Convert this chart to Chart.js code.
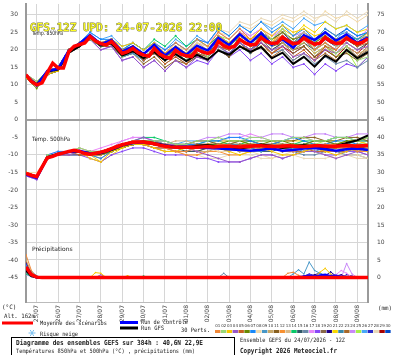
<!DOCTYPE html>
<html>
<head>
<meta charset="utf-8">
<script src="https://cdn.jsdelivr.net/npm/chart.js@4.4.1/dist/chart.umd.min.js"></script>
<style>
  html, body { margin: 0; padding: 0; background: #fff; }
</style>
</head>
<body>
<canvas id="gefsChart" width="395" height="355"></canvas>
<script>
// hours since run start (24/07 12Z)
const hours6 = [0,6,12,18,24,30,36,42,48,54,60,66,72,78,84,90,96,102,108,114,120,126,132,138,144,150,156,162,168,174,180,186,192,198,204,210,216,222,228,234,240,246,252,258,264,270,276,282,288,294,300,306,312,318,324,330,336,342,348,354,360,366,372,378,384];
const hours12 = [0,12,24,36,48,60,72,84,96,108,120,132,144,156,168,180,192,204,216,228,240,252,264,276,288,300,312,324,336,348,360,372,384];
const dayTicks = [12,36,60,84,108,132,156,180,204,228,252,276,300,324,348,372];
const dayLabels = ['25/07','26/07','27/07','28/07','29/07','30/07','31/07','01/08','02/08','03/08','04/08','05/08','06/08','07/08','08/08','09/08'];
const tempTicks = [-45,-40,-35,-30,-25,-20,-15,-10,-5,0,5,10,15,20,25,30];
const gridTemps = [30,20,10,-10,-20,-30,-35,-40];

// ensemble mean (6h)
const mean850 = [12.9,11.0,10.0,10.6,13.5,16.2,14.8,14.8,19.5,21.0,21.5,22.0,23.8,22.5,21.8,21.4,22.4,20.8,19.0,19.5,20.4,19.2,18.5,18.2,20.4,18.8,18.0,17.6,19.9,18.8,18.3,18.1,20.2,19.4,19.0,19.6,22.4,21.2,20.6,21.0,23.0,22.0,21.4,21.6,23.5,22.4,21.8,22.0,23.6,22.6,21.8,22.0,23.4,22.4,21.6,21.9,23.5,22.4,21.8,22.0,23.4,22.4,21.8,22.2,23.2];
const mean500 = [-15.3,-15.8,-16.2,-13.5,-10.8,-10.4,-9.8,-9.4,-9.0,-8.7,-9.0,-9.6,-9.8,-9.5,-9.2,-8.8,-8.2,-7.6,-7.1,-6.7,-6.4,-6.3,-6.3,-6.5,-6.8,-7.2,-7.5,-7.7,-7.8,-7.8,-7.8,-7.8,-7.8,-7.7,-7.6,-7.7,-7.6,-7.5,-7.5,-7.6,-7.7,-7.6,-7.5,-7.4,-7.4,-7.5,-7.6,-7.6,-7.5,-7.4,-7.5,-7.6,-7.6,-7.5,-7.4,-7.4,-7.5,-7.6,-7.5,-7.4,-7.3,-7.4,-7.5,-7.4,-7.3];

// control run and GFS run (12h)
const ctrl850 = [12.8,9.8,14.0,14.6,19.8,21.8,24.2,21.6,22.8,19.5,21.0,18.8,21.5,18.4,20.8,18.6,21.2,19.8,23.4,21.4,24.5,22.0,24.8,21.5,23.0,20.6,24.2,22.8,25.0,22.6,24.4,22.0,23.6];
const gfs850 = [12.6,10.2,13.8,14.4,19.2,21.0,23.6,21.2,21.8,18.4,19.6,17.6,19.4,17.0,18.8,16.8,18.6,17.2,19.8,18.6,21.0,19.4,20.8,17.6,19.2,16.0,18.0,15.2,18.4,16.6,20.0,17.6,19.4];
const ctrl500 = [-15.6,-16.6,-10.8,-9.8,-9.2,-8.8,-9.6,-9.4,-8.4,-7.2,-6.6,-6.4,-6.8,-7.4,-7.8,-7.6,-7.8,-8.0,-8.2,-8.4,-8.6,-8.8,-8.5,-8.2,-8.8,-8.6,-8.2,-8.0,-8.4,-8.8,-8.4,-8.2,-8.6];
const gfs500 = [-15.4,-16.2,-10.6,-9.6,-9.2,-9.0,-9.8,-9.6,-8.6,-7.4,-6.6,-6.2,-6.6,-7.2,-7.6,-7.8,-7.4,-7.2,-7.6,-7.8,-8.2,-7.6,-7.0,-7.4,-8.0,-7.6,-7.2,-7.6,-8.0,-7.4,-6.6,-5.8,-4.4];

// 30 perturbations, 850hPa (12h)
const pert850 = [
  [13,10,14,15,20,22,24,22,23,20,21,19,21,19,22,20,23,21,25,23,26,23,25,22,24,21,23,20,22,20,23,22,25],
  [13,11,14,15,19,21,23,21,22,18,20,18,20,17,19,17,20,18,22,21,24,22,25,23,26,22,24,20,22,19,21,17,18],
  [12,10,13,14,20,22,24,22,23,21,22,20,22,19,21,19,21,20,23,22,24,23,26,24,27,25,26,24,25,23,24,22,24],
  [13,10,13,15,19,21,23,20,21,17,18,15,17,14,17,15,18,17,21,19,22,20,22,20,21,18,19,17,20,19,22,20,21],
  [13,10,14,15,20,21,24,22,22,19,20,17,19,16,18,16,19,18,21,20,23,21,22,19,21,18,20,17,21,20,23,21,22],
  [12,9,13,14,19,21,23,21,22,20,21,19,21,18,20,18,20,19,22,21,24,22,24,23,25,23,24,22,24,22,23,21,24],
  [13,10,14,15,20,22,25,23,23,20,22,20,22,20,22,20,23,22,26,24,27,25,28,25,27,24,26,23,25,23,26,24,25],
  [13,10,13,15,19,22,24,22,23,20,21,19,21,19,21,20,22,21,25,24,27,26,28,27,29,28,30,28,31,29,30,28,30],
  [12,10,14,15,20,21,23,21,22,18,19,17,19,17,19,17,19,18,21,19,22,20,23,21,23,21,24,23,26,24,25,23,24],
  [13,11,14,15,20,22,24,22,23,19,21,18,20,18,20,19,22,20,23,21,22,20,21,19,22,20,22,19,21,19,21,19,20],
  [13,10,13,14,19,21,23,21,21,18,19,16,18,15,17,16,18,17,20,18,21,20,23,21,22,20,21,18,20,18,19,17,19],
  [12,10,13,15,20,21,24,22,23,19,20,18,20,17,20,18,21,20,24,22,25,23,26,23,24,21,23,21,24,22,24,22,23],
  [13,10,14,15,20,22,24,22,22,19,21,19,20,18,19,18,20,19,22,20,23,21,24,22,25,23,25,23,24,21,22,20,21],
  [13,10,13,15,20,22,24,22,23,20,22,20,23,21,24,21,23,21,24,22,23,21,24,22,23,21,24,22,25,23,24,23,25],
  [12,10,13,14,19,21,23,21,22,19,20,18,20,18,19,17,19,17,20,18,21,19,22,20,22,20,22,20,23,21,22,20,22],
  [13,10,14,15,19,21,23,21,22,18,20,17,19,16,18,16,18,17,20,19,22,20,22,19,20,17,19,16,18,16,17,15,17],
  [13,11,14,15,20,22,24,22,23,20,21,19,21,19,21,19,22,21,24,22,25,24,26,24,25,23,24,22,24,22,25,23,26],
  [12,10,13,14,19,21,23,20,21,17,18,15,17,14,17,15,17,16,20,18,20,17,19,16,18,15,16,13,16,14,16,15,18],
  [13,10,14,15,20,21,23,21,22,19,20,18,19,17,19,17,20,18,21,19,22,20,23,20,22,19,21,18,21,19,21,18,20],
  [12,10,13,15,20,22,24,22,22,19,21,19,21,18,20,18,20,19,22,21,24,22,25,23,25,22,23,20,22,20,23,21,23],
  [13,10,14,15,20,22,24,22,23,20,21,19,21,19,20,18,21,20,23,21,24,22,24,22,26,24,27,25,28,26,27,25,26],
  [13,10,13,15,19,21,23,21,22,18,19,17,19,17,19,18,21,19,22,20,23,21,24,22,24,22,25,23,24,22,24,22,24],
  [12,10,13,14,19,21,23,21,22,19,20,18,20,17,19,17,19,18,21,20,22,19,21,18,20,17,19,17,19,17,20,18,21],
  [13,10,14,15,20,22,24,22,23,20,22,20,22,20,22,20,23,22,25,23,26,24,26,24,26,24,25,23,24,22,25,23,25],
  [13,11,14,15,20,22,24,22,23,20,21,19,21,19,21,19,22,21,24,23,26,23,25,22,24,21,22,19,21,18,20,15,18],
  [13,10,14,15,20,22,25,23,24,21,22,20,22,20,23,21,24,22,26,24,27,25,28,26,28,26,29,27,28,26,27,25,27],
  [12,10,13,14,19,21,23,21,22,18,20,18,20,18,20,18,21,19,23,21,24,22,24,22,24,22,24,21,23,21,23,21,23],
  [13,10,14,15,20,22,24,22,23,20,21,19,21,19,21,20,23,22,26,25,28,27,29,28,30,29,31,29,30,28,31,29,31],
  [13,10,13,15,19,21,23,21,22,19,20,17,19,17,19,17,20,18,21,20,22,20,22,19,21,19,21,18,20,18,21,19,22],
  [13,10,14,15,20,22,24,22,23,19,21,19,21,18,20,18,21,20,23,21,24,22,25,23,25,23,25,23,26,24,26,24,25]
];

// 30 perturbations, 500hPa (12h)
const pert500 = [
  [-15,-16,-11,-10,-9,-9,-10,-10,-8,-7,-6,-6,-7,-8,-9,-9,-8,-8,-7,-7,-8,-8,-7,-7,-8,-9,-8,-8,-7,-7,-8,-9,-8],
  [-15,-16,-10,-10,-9,-8,-9,-9,-8,-7,-7,-6,-6,-6,-7,-7,-6,-6,-5,-6,-6,-5,-5,-6,-6,-5,-5,-6,-6,-5,-5,-6,-5],
  [-15,-16,-11,-10,-9,-9,-11,-12,-9,-8,-7,-7,-8,-9,-9,-8,-8,-7,-8,-9,-10,-9,-8,-9,-10,-10,-9,-8,-9,-10,-9,-8,-9],
  [-16,-17,-11,-10,-10,-9,-10,-9,-8,-7,-6,-5,-6,-7,-7,-8,-9,-10,-11,-12,-12,-11,-10,-10,-11,-10,-9,-9,-10,-11,-10,-9,-10],
  [-15,-16,-11,-10,-9,-10,-10,-9,-8,-7,-7,-7,-7,-7,-8,-8,-7,-7,-8,-8,-7,-7,-8,-8,-7,-7,-8,-9,-9,-8,-8,-7,-7],
  [-15,-16,-11,-10,-9,-9,-10,-10,-9,-8,-7,-6,-6,-7,-8,-8,-8,-7,-7,-6,-6,-7,-7,-6,-6,-7,-7,-6,-6,-7,-6,-6,-5],
  [-16,-16,-10,-9,-9,-9,-10,-11,-9,-7,-6,-6,-7,-7,-8,-7,-7,-6,-6,-5,-5,-6,-7,-7,-6,-5,-6,-7,-7,-6,-6,-7,-7],
  [-15,-15,-11,-10,-9,-9,-10,-10,-9,-7,-6,-6,-6,-7,-7,-8,-8,-8,-9,-9,-8,-9,-10,-11,-10,-9,-8,-9,-10,-11,-10,-10,-11],
  [-15,-16,-11,-10,-9,-9,-10,-9,-8,-7,-6,-6,-6,-6,-7,-7,-7,-8,-8,-7,-7,-8,-9,-8,-7,-8,-9,-9,-8,-7,-8,-9,-8],
  [-15,-16,-11,-10,-10,-9,-10,-10,-8,-7,-6,-7,-7,-8,-8,-8,-9,-9,-8,-8,-9,-9,-8,-7,-7,-8,-8,-7,-7,-8,-8,-7,-7],
  [-15,-16,-11,-10,-9,-9,-9,-9,-8,-7,-7,-6,-7,-7,-7,-7,-6,-6,-7,-7,-6,-6,-7,-7,-6,-6,-5,-5,-6,-6,-5,-5,-6],
  [-15,-16,-10,-10,-9,-9,-10,-11,-9,-8,-7,-7,-8,-8,-9,-10,-10,-9,-9,-10,-10,-9,-8,-8,-9,-9,-8,-8,-9,-9,-8,-9,-9],
  [-15,-16,-11,-10,-9,-8,-9,-9,-8,-7,-6,-6,-7,-7,-6,-6,-7,-7,-6,-6,-7,-7,-6,-6,-7,-8,-8,-7,-7,-8,-8,-7,-8],
  [-15,-16,-11,-10,-9,-9,-10,-9,-8,-7,-6,-5,-5,-6,-7,-7,-7,-6,-6,-7,-7,-6,-6,-6,-7,-7,-6,-6,-6,-5,-5,-6,-6],
  [-16,-16,-11,-10,-10,-10,-10,-10,-9,-8,-7,-7,-7,-8,-8,-9,-9,-8,-8,-9,-8,-8,-9,-9,-8,-8,-7,-8,-8,-8,-7,-8,-8],
  [-15,-16,-11,-10,-9,-9,-10,-10,-8,-7,-6,-6,-7,-8,-9,-9,-8,-7,-7,-8,-9,-9,-9,-8,-8,-9,-10,-10,-9,-9,-10,-10,-11],
  [-15,-16,-10,-9,-9,-8,-9,-8,-7,-6,-5,-5,-6,-6,-7,-7,-6,-6,-6,-5,-5,-4,-5,-6,-6,-5,-5,-6,-6,-5,-5,-6,-6],
  [-16,-17,-11,-10,-10,-10,-11,-12,-10,-9,-8,-8,-9,-10,-10,-10,-11,-11,-12,-12,-12,-11,-10,-10,-11,-10,-9,-9,-10,-10,-9,-9,-10],
  [-15,-16,-11,-10,-9,-9,-10,-10,-9,-8,-7,-7,-7,-7,-8,-8,-7,-7,-7,-7,-8,-8,-7,-7,-7,-7,-8,-8,-8,-7,-7,-8,-8],
  [-15,-16,-11,-10,-9,-9,-10,-9,-8,-7,-7,-7,-8,-8,-8,-7,-7,-7,-8,-8,-7,-7,-7,-8,-9,-9,-8,-8,-9,-9,-8,-8,-9],
  [-15,-16,-11,-10,-9,-9,-10,-12,-10,-8,-7,-6,-6,-6,-7,-7,-7,-7,-6,-6,-6,-7,-7,-7,-6,-6,-6,-7,-7,-7,-6,-6,-7],
  [-15,-16,-11,-10,-9,-9,-10,-10,-8,-7,-7,-7,-7,-8,-8,-8,-8,-7,-7,-8,-8,-7,-7,-8,-8,-7,-7,-6,-6,-7,-7,-6,-6],
  [-15,-16,-11,-10,-9,-9,-10,-10,-9,-8,-7,-7,-8,-9,-9,-9,-9,-8,-8,-8,-9,-9,-8,-8,-9,-9,-9,-8,-8,-9,-9,-8,-8],
  [-15,-16,-10,-10,-9,-9,-9,-9,-8,-6,-5,-5,-6,-6,-7,-7,-6,-5,-5,-4,-4,-5,-5,-4,-4,-5,-5,-4,-4,-5,-5,-4,-4],
  [-15,-16,-11,-10,-9,-9,-10,-10,-9,-7,-6,-6,-7,-7,-7,-7,-8,-8,-7,-7,-7,-7,-6,-6,-7,-7,-7,-7,-6,-6,-7,-7,-6],
  [-15,-16,-11,-10,-9,-9,-10,-10,-8,-7,-6,-6,-6,-7,-7,-6,-6,-6,-7,-7,-6,-6,-7,-8,-8,-7,-7,-8,-8,-8,-7,-7,-8],
  [-16,-16,-11,-10,-9,-9,-10,-10,-9,-8,-7,-7,-7,-8,-8,-8,-8,-8,-7,-7,-8,-8,-7,-7,-8,-8,-8,-7,-7,-7,-8,-8,-7],
  [-15,-16,-11,-10,-9,-9,-10,-10,-9,-8,-7,-7,-8,-8,-9,-10,-10,-11,-11,-10,-10,-10,-11,-11,-10,-10,-11,-11,-11,-10,-10,-11,-11],
  [-15,-16,-11,-10,-9,-9,-10,-9,-8,-7,-7,-6,-7,-7,-7,-8,-8,-7,-7,-7,-8,-8,-8,-7,-7,-7,-8,-8,-7,-7,-8,-8,-8],
  [-15,-16,-11,-10,-9,-9,-10,-10,-9,-7,-7,-6,-6,-7,-7,-7,-7,-7,-8,-8,-8,-7,-7,-7,-8,-8,-7,-7,-8,-8,-7,-7,-7]
];

// precipitation (mm), [hour, mm] pairs for members that show rain
const precipMean = [[0,3.0],[6,0.8],[12,0.1],[18,0],[384,0]];
const precipCtrl = [[0,3.0],[6,0.8],[12,0],[306,0],[312,0.3],[318,0.5],[324,0.2],[330,0.6],[336,0.8],[342,0.4],[348,0.5],[354,0.2],[360,0],[384,0]];
const precipGfs = [[0,2.0],[6,0.4],[12,0],[384,0]];
const precipPerts = {
  1:  [[0,6.5],[6,2.0],[12,0],[288,0],[294,1.2],[300,1.5],[306,0.6],[312,0],[384,0]],
  3:  [[0,3.0],[6,0.8],[12,0],[72,0],[78,1.4],[84,1.2],[90,0],[108,0],[114,0.5],[120,0],[324,0],[330,1.5],[336,2.6],[342,1.0],[348,0],[384,0]],
  4:  [[0,2.0],[6,0.6],[12,0],[78,0],[84,0.8],[90,0],[384,0]],
  7:  [[0,3.5],[6,1.0],[12,0],[384,0]],
  9:  [[0,2.5],[6,1.8],[12,0.5],[18,0],[294,0],[300,1.0],[306,2.2],[312,1.0],[318,4.4],[324,2.0],[330,1.2],[336,0.6],[342,0],[384,0]],
  10: [[0,5.0],[6,1.5],[12,0],[384,0]],
  14: [[0,1.0],[6,0.3],[12,0],[126,0],[132,0.4],[138,0],[384,0]],
  16: [[0,1.5],[6,0.4],[12,0],[216,0],[222,1.2],[228,0],[384,0]],
  17: [[0,1.2],[6,0.3],[12,0],[342,0],[348,0.8],[354,2.0],[360,1.2],[366,0],[384,0]],
  20: [[0,2.2],[6,0.5],[12,0],[318,0],[324,0.8],[330,1.2],[336,0.5],[342,1.6],[348,0.4],[354,0.8],[360,0],[384,0]],
  24: [[0,0.8],[6,0.2],[12,0],[354,0],[360,4.0],[366,1.0],[372,0],[384,0]],
  27: [[0,4.0],[6,1.2],[12,0],[306,0],[312,0.4],[318,1.0],[324,0.6],[330,0],[354,0],[360,0.8],[366,0.4],[372,0],[384,0]],
  29: [[0,4.5],[6,1.0],[12,0],[384,0]]
};

const pertColors = ['#f08838','#98d878','#f8c800','#9858c8','#c86020','#688800','#1888f8','#f0d8a8','#4898c8','#c8a868',
                    '#886020','#f89030','#d8b888','#08c868','#305868','#6888a8','#e888f8','#8848f8','#886848','#200088',
                    '#f8d800','#3888a8','#a86828','#c888f8','#a8f048','#48a8f8','#2828c8','#e8d8b8','#a80000','#0048c8'];

function toPoints(hours, vals) {
    return vals.map((v, i) => ({ x: hours[i], y: v }));
}
function pairsToPoints(pairs) {
    return pairs.map(p => ({ x: p[0], y: p[1] }));
}

const datasets = [];
// main runs on top
datasets.push({ data: toPoints(hours6, mean850), borderColor: '#ff0000', borderWidth: 3.5, pointRadius: 0, order: 0 });
datasets.push({ data: toPoints(hours6, mean500), borderColor: '#ff0000', borderWidth: 3.5, pointRadius: 0, order: 0 });
datasets.push({ data: pairsToPoints(precipMean), yAxisID: 'y2', borderColor: '#ff0000', borderWidth: 3.5, pointRadius: 0, order: 0 });
datasets.push({ data: toPoints(hours12, ctrl850), borderColor: '#0000ff', borderWidth: 2.5, pointRadius: 0, order: 1 });
datasets.push({ data: toPoints(hours12, ctrl500), borderColor: '#0000ff', borderWidth: 2.5, pointRadius: 0, order: 1 });
datasets.push({ data: pairsToPoints(precipCtrl), yAxisID: 'y2', borderColor: '#0000ff', borderWidth: 2.5, pointRadius: 0, order: 1 });
datasets.push({ data: toPoints(hours12, gfs850), borderColor: '#000000', borderWidth: 2, pointRadius: 0, order: 2 });
datasets.push({ data: toPoints(hours12, gfs500), borderColor: '#000000', borderWidth: 2, pointRadius: 0, order: 2 });
datasets.push({ data: pairsToPoints(precipGfs), yAxisID: 'y2', borderColor: '#000000', borderWidth: 2, pointRadius: 0, order: 2 });

pert850.forEach((vals, i) => {
    datasets.push({ data: toPoints(hours12, vals), borderColor: pertColors[i], backgroundColor: pertColors[i],
        borderWidth: 1, pointRadius: 1, pointBorderWidth: 0, order: 10 });
});
pert500.forEach((vals, i) => {
    datasets.push({ data: toPoints(hours12, vals), borderColor: pertColors[i], backgroundColor: pertColors[i],
        borderWidth: 1, pointRadius: 1, pointBorderWidth: 0, order: 10 });
});
Object.keys(precipPerts).forEach(k => {
    const c = pertColors[k - 1];
    datasets.push({ data: pairsToPoints(precipPerts[k]), yAxisID: 'y2', borderColor: c, backgroundColor: c,
        borderWidth: 1, pointRadius: 0.8, pointBorderWidth: 0, order: 10 });
});

// texts, legend and footer
const meteoTexts = {
    id: 'meteoTexts',
    beforeDatasetsDraw(chart) {
        const ctx = chart.ctx;
        ctx.save();
        ctx.fillStyle = '#222';
        ctx.textBaseline = 'middle';
        ctx.font = '6px "DejaVu Sans"';
        ctx.fillText('Temp. 850hPa', 32, 33.5, 31);
        ctx.fillText('Temp. 500hPa', 32, 139, 38);
        ctx.fillText('Précipitations', 32, 249, 44);
        ctx.restore();
    },
    afterDatasetsDraw(chart) {
        const ctx = chart.ctx;
        ctx.save();
        ctx.font = '11px "DejaVu Sans Mono"';
        ctx.textBaseline = 'alphabetic';
        ctx.lineWidth = 1;
        ctx.strokeStyle = '#7c7c30';
        ctx.strokeText('GFS-12Z UPD: 24-07-2026 22:00', 30, 31, 195);
        ctx.fillStyle = '#ffff20';
        ctx.fillText('GFS-12Z UPD: 24-07-2026 22:00', 30, 31, 195);
        ctx.restore();
    },
    afterDraw(chart) {
        const ctx = chart.ctx;
        ctx.save();
        ctx.textBaseline = 'middle';
        ctx.fillStyle = '#222';
        ctx.font = '6px "DejaVu Sans Mono"';
        ctx.fillText('(°C)', 2, 307, 18);
        ctx.fillText('(mm)', 378, 308, 14);
        ctx.fillText('Alt. 162m', 4, 316, 31);
        ctx.fillText('Moyenne des scénarios', 40, 323, 67);
        ctx.fillText('Run de contrôle', 141, 322.5, 47);
        ctx.fillText('Run GFS', 141, 328, 23);
        ctx.fillText('Risque neige', 40, 334, 38);
        ctx.fillText('30 Perts.', 181, 330, 29);
        ctx.fillText('Ensemble GEFS du 24/07/2026 - 12Z', 240, 340, 105);
        ctx.fillText('Températures 850hPa et 500hPa (°C) , précipitations (mm)', 16, 351.5, 179);
        ctx.font = 'bold 7px "DejaVu Sans Mono"';
        ctx.fillText('Diagramme des ensembles GEFS sur 384h : 40,6N 22,9E', 16, 343.5, 187);
        ctx.fillText('Copyright 2026 Meteociel.fr', 240, 351, 97);

        // legend bars
        ctx.fillStyle = '#ff0000';
        ctx.fillRect(2, 321.5, 31, 3);
        ctx.fillStyle = '#0000ff';
        ctx.fillRect(120, 321, 18, 3);
        ctx.fillStyle = '#000000';
        ctx.fillRect(120, 326.5, 18, 3);

        // snow icon
        ctx.strokeStyle = '#78bff0';
        ctx.lineWidth = 1;
        for (let a = 0; a < 3; a++) {
            const ang = a * Math.PI / 3;
            ctx.beginPath();
            ctx.moveTo(32 - 3.5 * Math.cos(ang), 333 - 3.5 * Math.sin(ang));
            ctx.lineTo(32 + 3.5 * Math.cos(ang), 333 + 3.5 * Math.sin(ang));
            ctx.stroke();
        }

        // member swatches
        ctx.font = '4px "DejaVu Sans"';
        ctx.textAlign = 'center';
        pertColors.forEach((c, i) => {
            const x = 215 + i * 5.87;
            ctx.fillStyle = '#333';
            ctx.fillText(String(i + 1).padStart(2, '0'), x + 2.8, 326, 5.4);
            ctx.fillStyle = c;
            ctx.fillRect(x, 330, 5.4, 3);
        });

        // footer box
        ctx.strokeStyle = '#000';
        ctx.lineWidth = 1;
        ctx.strokeRect(11.5, 337.5, 223, 20);
        ctx.restore();
    }
};

const ctx = document.getElementById('gefsChart').getContext('2d');
new Chart(ctx, {
    type: 'line',
    data: { datasets: datasets },
    options: {
        responsive: false,
        animation: false,
        devicePixelRatio: 1,
        layout: { padding: 0 },
        plugins: { legend: { display: false }, tooltip: { enabled: false } },
        elements: { line: { tension: 0 } },
        scales: {
            x: {
                type: 'linear',
                min: 0,
                max: 384,
                afterBuildTicks: s => { s.ticks = dayTicks.map(v => ({ value: v })); },
                afterFit: s => { s.height = 53; s.paddingLeft = 0; s.paddingRight = 0; },
                ticks: {
                    autoSkip: false,
                    minRotation: 90,
                    maxRotation: 90,
                    padding: 3,
                    color: '#444',
                    font: { family: 'DejaVu Sans', size: 6 },
                    callback: v => dayLabels[dayTicks.indexOf(v)]
                },
                grid: { color: '#d6d6d6', drawTicks: false },
                border: { color: '#bbbbbb', width: 1 }
            },
            y: {
                position: 'left',
                min: -52,
                max: 33.1,
                afterBuildTicks: s => { s.ticks = tempTicks.map(v => ({ value: v })); },
                afterFit: s => { s.width = 26; s.paddingTop = 0; s.paddingBottom = 0; },
                ticks: { autoSkip: false, padding: 8, color: '#444', font: { family: 'DejaVu Sans', size: 6 } },
                grid: {
                    drawTicks: false,
                    color: c => {
                        const v = c.tick ? c.tick.value : undefined;
                        if (v === 0) return '#a0a0a0';
                        if (gridTemps.includes(v)) return '#d6d6d6';
                        return 'rgba(0,0,0,0)';
                    },
                    lineWidth: c => (c.tick && c.tick.value === 0 ? 2 : 1)
                },
                border: { color: '#9a9a9a', width: 2 }
            },
            y2: {
                position: 'right',
                min: -7,
                max: 78.1,
                afterBuildTicks: s => { s.ticks = tempTicks.map(v => ({ value: v + 45 })); },
                afterFit: s => { s.width = 27; s.paddingTop = 0; s.paddingBottom = 0; },
                ticks: { autoSkip: false, padding: 9, color: '#444', font: { family: 'DejaVu Sans', size: 6 } },
                grid: { display: false, drawTicks: false },
                border: { color: '#9a9a9a', width: 2 }
            }
        }
    },
    plugins: [meteoTexts]
});
</script>
</body>
</html>
